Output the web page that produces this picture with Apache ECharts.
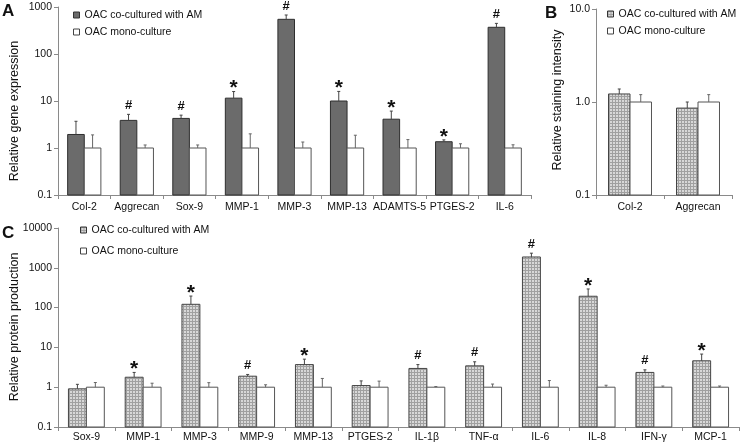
<!DOCTYPE html>
<html><head><meta charset="utf-8">
<script src="https://cdn.jsdelivr.net/npm/echarts@6/dist/echarts.min.js"></script>
<style>html,body{margin:0;padding:0;background:#fff}#c{width:741px;height:446px}</style>
</head><body><div id="c"></div>
<script>
// ---------- data ----------
var seriesNames = ['OAC co-cultured with AM', 'OAC mono-culture'];

var catsA = ['Col-2','Aggrecan','Sox-9','MMP-1','MMP-3','MMP-13','ADAMTS-5','PTGES-2','IL-6'];
var coA    = [1.94, 3.87, 4.26, 11.5, 547, 10.0, 4.1, 1.36, 370];
var coAErr = [3.7, 5.2, 5.0, 15.9, 676, 16.0, 6.1, 1.49, 448];
var monoA    = [1, 1, 1, 1, 1, 1, 1, 1, 1];
var monoAErr = [1.9, 1.16, 1.16, 2.0, 1.34, 1.87, 1.51, 1.23, 1.17];
var sigA = ['', '#', '#', '*', '#', '*', '*', '*', '#'];
var ticksA = ['0.1', '1', '10', '100', '1000'];

var catsB = ['Col-2', 'Aggrecan'];
var coB    = [1.22, 0.86];
var coBErr = [1.38, 1.0];
var monoB    = [1, 1];
var monoBErr = [1.2, 1.2];
var sigB = ['', ''];
var ticksB = ['0.1', '1.0', '10.0'];

var catsC = ['Sox-9','MMP-1','MMP-3','MMP-9','MMP-13','PTGES-2','IL-1β','TNF-α','IL-6','IL-8','IFN-γ','MCP-1'];
var coC    = [0.91, 1.78, 121, 1.89, 3.7, 1.1, 2.96, 3.44, 1870, 193, 2.35, 4.6];
var coCErr = [1.18, 2.35, 195, 2.09, 5.07, 1.44, 3.7, 4.35, 2330, 294, 2.73, 6.8];
var monoC    = [1, 1, 1, 1, 1, 1, 1, 1, 1, 1, 1, 1];
var monoCErr = [1.31, 1.26, 1.3, 1.15, 1.66, 1.42, 1.04, 1.2, 1.47, 1.12, 1.07, 1.07];
var sigC = ['', '*', '*', '#', '*', '', '#', '#', '#', '*', '#', '*'];
var ticksC = ['0.1', '1', '10', '100', '1000', '10000'];

// ---------- styles ----------
var FONT = 'Liberation Sans, Arial, sans-serif';
var BAR_FRAC = 0.316;
var pc = document.createElement('canvas'); pc.width = 3; pc.height = 3;
var g = pc.getContext('2d');
g.fillStyle = '#d8d8d8'; g.fillRect(0, 0, 3, 3);
g.fillStyle = '#a0a0a0'; g.fillRect(0, 0, 3, 1); g.fillRect(0, 0, 1, 3);
var hatch = { image: pc, repeat: 'repeat' };

function rows(vals, errs) {
  return vals.map(function (v, i) { return [i, v, errs[i]]; });
}

function makeRender(side, fill, stroke, errColor, ymin, sigs) {
  return function (params, api) {
    var i = api.value(0), v = api.value(1), e = api.value(2);
    var p = api.coord([i, v]);
    var b = api.coord([i, ymin]);
    var pe = api.coord([i, e]);
    var cw = api.coord([i + 1, v])[0] - p[0];
    var w = cw * BAR_FRAC;
    var x0 = side === 0 ? p[0] - w : p[0];
    var cx = x0 + w / 2;
    var ch = [
      { type: 'rect', shape: { x: x0, y: p[1], width: w, height: b[1] - p[1] },
        style: { fill: fill, stroke: stroke, lineWidth: 1 } },
      { type: 'line', shape: { x1: cx, y1: p[1], x2: cx, y2: pe[1] },
        style: { stroke: errColor, lineWidth: 1 } },
      { type: 'line', shape: { x1: cx - 1.5, y1: pe[1], x2: cx + 1.5, y2: pe[1] },
        style: { stroke: errColor, lineWidth: 1 } }
    ];
    var s = sigs ? sigs[params.dataIndex] : '';
    if (s === '#') {
      ch.push({ type: 'text', x: cx, y: pe[1] - 9,
        style: { text: '#', font: 'bold 13px ' + FONT, fill: '#111', align: 'center', verticalAlign: 'middle' } });
    } else if (s === '*') {
      ch.push({ type: 'text', x: cx, y: pe[1] - 3,
        style: { text: '*', font: 'bold 21px ' + FONT, fill: '#111', align: 'center', verticalAlign: 'middle' } });
    }
    return { type: 'group', children: ch };
  };
}

function logAxis(idx, min, max, labels) {
  return {
    type: 'log', gridIndex: idx, min: min, max: max, logBase: 10,
    axisLine: { show: true, lineStyle: { color: '#8a8a8a', width: 1 } },
    axisTick: { show: true, length: 4, lineStyle: { color: '#8a8a8a' } },
    minorTick: { show: false }, splitLine: { show: false },
    axisLabel: { fontSize: 10.5, color: '#111', fontFamily: FONT, margin: 6,
      formatter: function (v) { var k = Math.round(Math.log10(v) - Math.log10(min)); return labels[k]; } }
  };
}
function catAxis(idx, cats, margin) {
  return {
    type: 'category', gridIndex: idx, data: cats,
    axisLine: { show: true, lineStyle: { color: '#8a8a8a', width: 1 } },
    axisTick: { show: true, length: 4, lineStyle: { color: '#8a8a8a' } },
    axisLabel: { fontSize: 10.5, color: '#111', fontFamily: FONT, interval: 0, margin: margin }
  };
}
function bar(idx, side, vals, errs, fill, stroke, ymin, sigs) {
  return {
    type: 'custom', name: seriesNames[side], xAxisIndex: idx, yAxisIndex: idx,
    data: rows(vals, errs), encode: { x: 0, y: 1 }, clip: false,
    itemStyle: { color: fill, borderColor: stroke, borderWidth: 1 },
    renderItem: makeRender(side, fill, stroke, side === 0 ? '#444' : '#666', ymin, sigs)
  };
}
function legend(left, top, gap, coFill) {
  return {
    orient: 'vertical', left: left, top: top, padding: 0, itemGap: gap,
    itemWidth: 6, itemHeight: 6, icon: 'rect', itemTextGap: 1, selectedMode: false,
    textStyle: { fontSize: 10.5, color: '#111', fontFamily: FONT, lineHeight: 12 },
    data: [
      { name: seriesNames[0], itemStyle: { color: coFill, borderColor: '#333', borderWidth: 1 } },
      { name: seriesNames[1], itemStyle: { color: '#fff', borderColor: '#444', borderWidth: 1 } }
    ]
  };
}

var chart = echarts.init(document.getElementById('c'), null, { renderer: 'canvas' });
chart.setOption({
  animation: false,
  backgroundColor: '#fff',
  textStyle: { fontFamily: FONT },
  grid: [
    { left: 58, right: 210, top: 7, bottom: 251 },
    { left: 596, right: 9, top: 9, bottom: 251 },
    { left: 58, right: 2, top: 228, bottom: 19 }
  ],
  xAxis: [catAxis(0, catsA, 7), catAxis(1, catsB, 7), catAxis(2, catsC, 5)],
  yAxis: [logAxis(0, 0.1, 1000, ticksA), logAxis(1, 0.1, 10, ticksB), logAxis(2, 0.1, 10000, ticksC)],
  legend: [legend(73, 9, 5, '#6b6b6b'), legend(607, 8, 5, hatch), legend(80, 224, 9, hatch)],
  graphic: [
    { type: 'text', x: 2, y: 3, style: { text: 'A', font: 'bold 17px ' + FONT, fill: '#111' } },
    { type: 'text', x: 545, y: 5, style: { text: 'B', font: 'bold 17px ' + FONT, fill: '#111' } },
    { type: 'text', x: 2, y: 225, style: { text: 'C', font: 'bold 17px ' + FONT, fill: '#111' } },
    { type: 'text', x: 15, y: 111, rotation: Math.PI / 2,
      style: { text: 'Relative gene expression', font: '12.5px ' + FONT, fill: '#111', align: 'center', verticalAlign: 'middle' } },
    { type: 'text', x: 558, y: 100, rotation: Math.PI / 2,
      style: { text: 'Relative staining intensity', font: '12.5px ' + FONT, fill: '#111', align: 'center', verticalAlign: 'middle' } },
    { type: 'text', x: 15, y: 327, rotation: Math.PI / 2,
      style: { text: 'Relative protein production', font: '12.5px ' + FONT, fill: '#111', align: 'center', verticalAlign: 'middle' } }
  ],
  series: [
    bar(0, 0, coA, coAErr, '#6b6b6b', '#2e2e2e', 0.1, sigA),
    bar(0, 1, monoA, monoAErr, '#ffffff', '#555', 0.1, null),
    bar(1, 0, coB, coBErr, hatch, '#444', 0.1, sigB),
    bar(1, 1, monoB, monoBErr, '#ffffff', '#555', 0.1, null),
    bar(2, 0, coC, coCErr, hatch, '#444', 0.1, sigC),
    bar(2, 1, monoC, monoCErr, '#ffffff', '#555', 0.1, null)
  ]
});
</script>
</body></html>
